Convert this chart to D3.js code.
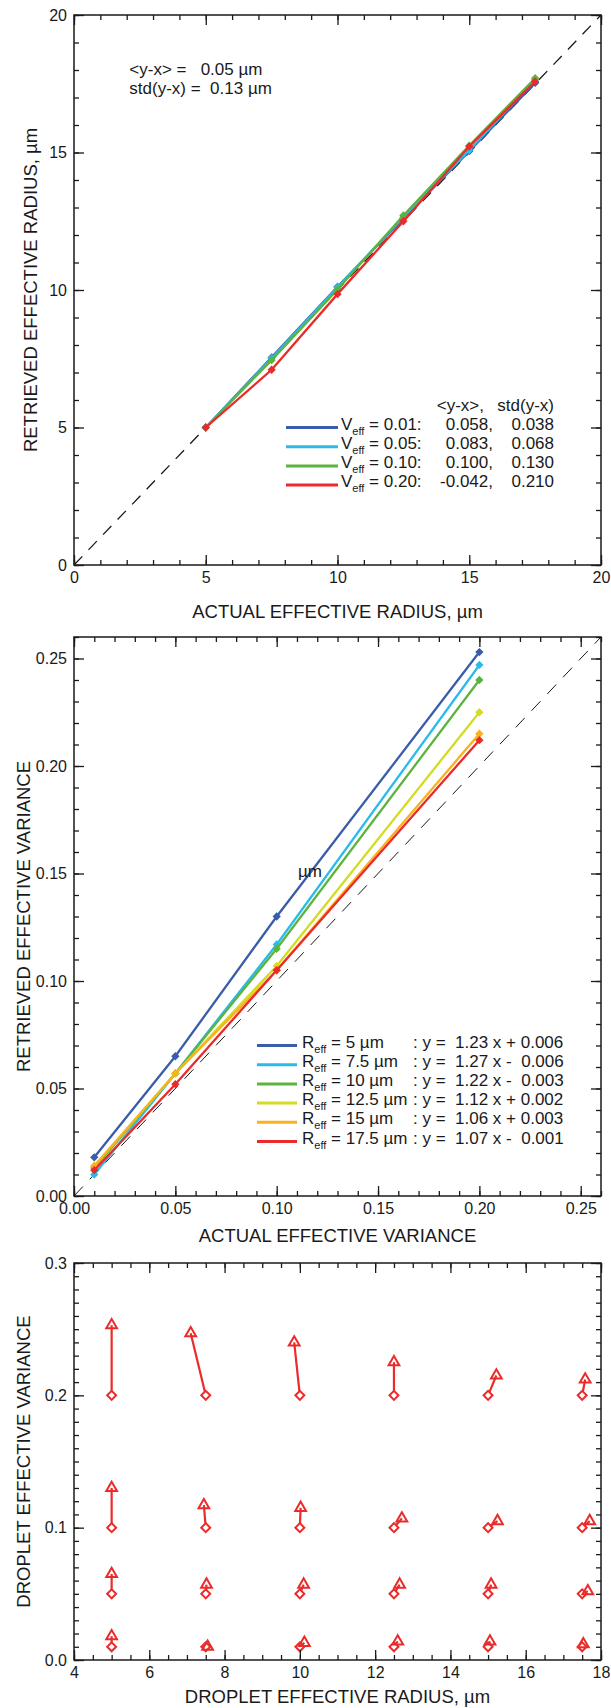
<!DOCTYPE html>
<html>
<head>
<meta charset="utf-8">
<script src="https://cdn.jsdelivr.net/npm/d3@7"></script>
<style>
body { margin: 0; background: #fff; }
svg text { font-family: "Liberation Sans", Arial, Helvetica, sans-serif; fill: #1a1a1a; white-space: pre; }
.tick text { font-size: 16px; }
.title { font-size: 18.5px; }
.note { font-size: 17px; }
.sub { font-size: 11px; }
</style>
</head>
<body>
<svg id="chart" width="611" height="1708"></svg>
<script>
// actual droplet effective radius (um) and effective variance used in the retrievals
var actualR = [5, 7.5, 10, 12.5, 15, 17.5];
var actualV = [0.01, 0.05, 0.10, 0.20];

// retrieved effective radius, one row per actual variance (cols follow actualR)
var retrievedR = [
    [5.0, 7.55, 10.12, 12.60, 15.05, 17.53],
    [5.0, 7.52, 10.10, 12.65, 15.08, 17.65],
    [5.0, 7.45, 10.02, 12.71, 15.25, 17.70],
    [5.0, 7.10, 9.85, 12.50, 15.22, 17.58]
];

// retrieved effective variance, one row per actual radius (cols follow actualV)
var retrievedV = [
    [0.018, 0.065, 0.130, 0.253],
    [0.010, 0.057, 0.117, 0.247],
    [0.013, 0.057, 0.115, 0.240],
    [0.014, 0.057, 0.107, 0.225],
    [0.014, 0.057, 0.105, 0.215],
    [0.012, 0.052, 0.105, 0.212]
];

// legend texts
var vLabels = ['0.01', '0.05', '0.10', '0.20'];
var biasR = ['0.058,', '0.083,', '0.100,', '-0.042,'];
var stdR = ['0.038', '0.068', '0.130', '0.210'];
var rLabels = ['5 \u00b5m', '7.5 \u00b5m', '10 \u00b5m', '12.5 \u00b5m', '15 \u00b5m', '17.5 \u00b5m'];
var fitLabels = [': y =  1.23 x + 0.006', ': y =  1.27 x -  0.006', ': y =  1.22 x -  0.003',
    ': y =  1.12 x + 0.002', ': y =  1.06 x + 0.003', ': y =  1.07 x -  0.001'];
var summary = ['<y-x> =   0.05 \u00b5m', 'std(y-x) =  0.13 \u00b5m'];

var V_COLORS = ['#3a5daa', '#2bbbeb', '#5cb33d', '#ea2b2a'];
var R_COLORS = ['#3a5daa', '#2bbbeb', '#5cb33d', '#d3dc22', '#f8b21d', '#ea2b2a'];
var MAJOR_TICK = 10;
var MINOR_TICK = 5;
var LEFT = 74, RIGHT = 601;

var svg = d3.select('#chart');

function steps(domain, step) {
    return d3.range(domain[0], domain[1] + step / 2, step);
}

function addAxes(x, y, xt, yt) {
    var xr = x.range(), yr = y.range();
    var sides = [
        { axis: d3.axisBottom, scale: x, t: xt, pos: 'translate(0,' + yr[0] + ')', labels: true },
        { axis: d3.axisTop, scale: x, t: xt, pos: 'translate(0,' + yr[1] + ')' },
        { axis: d3.axisLeft, scale: y, t: yt, pos: 'translate(' + xr[0] + ',0)', labels: true },
        { axis: d3.axisRight, scale: y, t: yt, pos: 'translate(' + xr[1] + ',0)' }
    ];
    sides.forEach(function (s) {
        var minor = svg.append('g').attr('transform', s.pos).
            call(s.axis(s.scale).tickValues(steps(s.scale.domain(), s.t.minor)).
                tickSizeInner(-MINOR_TICK).tickSizeOuter(0).tickFormat(''));
        var major = svg.append('g').attr('transform', s.pos).
            call(s.axis(s.scale).tickValues(steps(s.scale.domain(), s.t.major)).
                tickSizeInner(-MAJOR_TICK).tickSizeOuter(0).tickPadding(s.labels ? 7 : 0).
                tickFormat(s.labels ? d3.format(s.t.format) : ''));
        [minor, major].forEach(function (g) {
            g.attr('font-family', null).attr('font-size', null).style('color', '#1a1a1a');
            g.select('.domain').remove();
            g.selectAll('line').attr('stroke-width', 1.3);
        });
    });
    svg.append('rect').
        attr('x', xr[0]).attr('y', yr[1]).
        attr('width', xr[1] - xr[0]).attr('height', yr[0] - yr[1]).
        attr('fill', 'none').attr('stroke', '#1a1a1a').attr('stroke-width', 1.5);
}

function axisTitles(x, y, xTitle, xOffset, yTitle, yX) {
    var xr = x.range(), yr = y.range();
    svg.append('text').attr('class', 'title').
        attr('x', (xr[0] + xr[1]) / 2).attr('y', yr[0] + xOffset).
        attr('text-anchor', 'middle').text(xTitle);
    svg.append('text').attr('class', 'title').
        attr('transform', 'translate(' + yX + ',' + (yr[0] + yr[1]) / 2 + ')rotate(-90)').
        attr('text-anchor', 'middle').attr('dy', '0.35em').text(yTitle);
}

function diamond(size) {
    return d3.symbol().type(d3.symbolSquare).size(size);
}

function series(x, y, xs, ys, color) {
    var line = d3.line().x(function (d) { return x(d[0]); }).y(function (d) { return y(d[1]); });
    var pts = d3.zip(xs, ys);
    svg.append('path').datum(pts).
        attr('d', line).attr('fill', 'none').
        attr('stroke', color).attr('stroke-width', 2.3);
    svg.append('g').selectAll('path').data(pts).enter().append('path').
        attr('d', diamond(18)).
        attr('transform', function (d) { return 'translate(' + x(d[0]) + ',' + y(d[1]) + ')rotate(45)'; }).
        attr('fill', color).attr('stroke', color).attr('stroke-width', 1.6);
}

function legendLabel(g, x, y, letter, rest) {
    var t = g.append('text').attr('class', 'note').attr('x', x).attr('y', y);
    t.append('tspan').text(letter);
    t.append('tspan').attr('class', 'sub').attr('dy', 5).text('eff');
    t.append('tspan').attr('dy', -5).text(rest);
}

// ---------- panel 1: retrieved vs actual effective radius ----------
var x1 = d3.scaleLinear().domain([0, 20]).range([LEFT, RIGHT]);
var y1 = d3.scaleLinear().domain([0, 20]).range([565, 15]);

svg.append('line').
    attr('x1', x1(0)).attr('y1', y1(0)).attr('x2', x1(20)).attr('y2', y1(20)).
    attr('stroke', '#1a1a1a').attr('stroke-width', 1.3).attr('stroke-dasharray', '12,9');
retrievedR.forEach(function (row, i) {
    series(x1, y1, actualR, row, V_COLORS[i]);
});
addAxes(x1, y1, { major: 5, minor: 1, format: 'd' }, { major: 5, minor: 1, format: 'd' });
axisTitles(x1, y1, 'ACTUAL EFFECTIVE RADIUS, \u00b5m', 53, 'RETRIEVED EFFECTIVE RADIUS, \u00b5m', 31);

summary.forEach(function (s, i) {
    svg.append('text').attr('class', 'note').
        attr('x', x1(2.1)).attr('y', y1(18) + 5 + i * 19).text(s);
});

var leg1 = svg.append('g');
var leg1Top = y1(5);
leg1.append('text').attr('class', 'note').attr('x', 484).attr('y', leg1Top - 17).
    attr('text-anchor', 'end').text('<y-x>,');
leg1.append('text').attr('class', 'note').attr('x', 554).attr('y', leg1Top - 17).
    attr('text-anchor', 'end').text('std(y-x)');
vLabels.forEach(function (v, i) {
    var yy = leg1Top + i * 19.2;
    leg1.append('line').attr('x1', 286).attr('x2', 338).attr('y1', yy).attr('y2', yy).
        attr('stroke', V_COLORS[i]).attr('stroke-width', 3);
    legendLabel(leg1, 341, yy + 2, 'V', ' = ' + v + ':');
    leg1.append('text').attr('class', 'note').attr('x', 493).attr('y', yy + 2).
        attr('text-anchor', 'end').text(biasR[i]);
    leg1.append('text').attr('class', 'note').attr('x', 554).attr('y', yy + 2).
        attr('text-anchor', 'end').text(stdR[i]);
});

// ---------- panel 2: retrieved vs actual effective variance ----------
var x2 = d3.scaleLinear().domain([0, 0.26]).range([LEFT, RIGHT]);
var y2 = d3.scaleLinear().domain([0, 0.26]).range([1196, 637]);

svg.append('line').
    attr('x1', x2(0)).attr('y1', y2(0)).attr('x2', x2(0.26)).attr('y2', y2(0.26)).
    attr('stroke', '#1a1a1a').attr('stroke-width', 1).attr('stroke-dasharray', '13,10');
retrievedV.forEach(function (row, i) {
    series(x2, y2, actualV, row, R_COLORS[i]);
});
addAxes(x2, y2, { major: 0.05, minor: 0.01, format: '.2f' }, { major: 0.05, minor: 0.01, format: '.2f' });
axisTitles(x2, y2, 'ACTUAL EFFECTIVE VARIANCE', 46, 'RETRIEVED EFFECTIVE VARIANCE', 24);

svg.append('text').attr('class', 'note').attr('x', x2(0.1105)).attr('y', y2(0.1513) + 6).text('\u00b5m');

var leg2 = svg.append('g');
var leg2Top = y2(0.07);
rLabels.forEach(function (r, i) {
    var yy = leg2Top + i * 19.2;
    leg2.append('line').attr('x1', 257).attr('x2', 297).attr('y1', yy).attr('y2', yy).
        attr('stroke', R_COLORS[i]).attr('stroke-width', 3);
    legendLabel(leg2, 302, yy + 2, 'R', ' = ' + r);
    leg2.append('text').attr('class', 'note').attr('x', 413).attr('y', yy + 2).text(fitLabels[i]);
});

// ---------- panel 3: actual -> retrieved (radius, variance) ----------
var x3 = d3.scaleLinear().domain([4, 18]).range([LEFT, RIGHT]);
var y3 = d3.scaleLinear().domain([0, 0.3]).range([1660, 1263]);

var pairs = [];
actualV.forEach(function (v, vi) {
    actualR.forEach(function (r, ri) {
        pairs.push({ r: r, v: v, rr: retrievedR[vi][ri], rv: retrievedV[ri][vi] });
    });
});
var g3 = svg.append('g');
g3.selectAll('line').data(pairs).enter().append('line').
    attr('x1', function (d) { return x3(d.r); }).attr('y1', function (d) { return y3(d.v); }).
    attr('x2', function (d) { return x3(d.rr); }).attr('y2', function (d) { return y3(d.rv); }).
    attr('stroke', '#ea2b2a').attr('stroke-width', 2.2);
g3.selectAll('path.act').data(pairs).enter().append('path').attr('class', 'act').
    attr('d', diamond(40)).
    attr('transform', function (d) { return 'translate(' + x3(d.r) + ',' + y3(d.v) + ')rotate(45)'; }).
    attr('fill', '#fff').attr('stroke', '#ea2b2a').attr('stroke-width', 2);
g3.selectAll('path.ret').data(pairs).enter().append('path').attr('class', 'ret').
    attr('d', d3.symbol().type(d3.symbolTriangle).size(50)).
    attr('transform', function (d) { return 'translate(' + x3(d.rr) + ',' + y3(d.rv) + ')'; }).
    attr('fill', 'none').attr('stroke', '#ea2b2a').attr('stroke-width', 2);

addAxes(x3, y3, { major: 2, minor: 0.5, format: 'd' }, { major: 0.1, minor: 0.01, format: '.1f' });
axisTitles(x3, y3, 'DROPLET EFFECTIVE RADIUS, \u00b5m', 43, 'DROPLET EFFECTIVE VARIANCE', 24);
</script>
</body>
</html>
